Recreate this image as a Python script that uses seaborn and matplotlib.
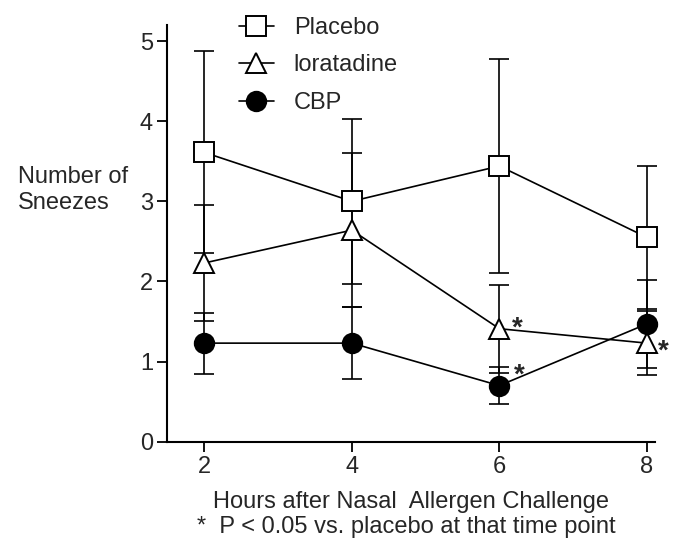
import matplotlib
matplotlib.use("Agg")
import matplotlib.pyplot as plt
import seaborn as sns
import pandas as pd
import numpy as np
from matplotlib.lines import Line2D

hours = [2, 4, 6, 8]
placebo = [3.61, 3.00, 3.44, 2.55]
placebo_err = [1.26, 1.03, 1.33, 0.89]
loratadine = [2.23, 2.64, 1.41, 1.23]
loratadine_err = [0.73, 0.96, 0.55, 0.40]
cbp = [1.23, 1.23, 0.70, 1.47]
cbp_err = [0.38, 0.45, 0.23, 0.55]
series_names = ["Placebo", "loratadine", "CBP"]
sig_points = [("loratadine", 6), ("CBP", 6), ("loratadine", 8)]
sig_offsets = [(18, 8), (20, 18), (16, 0)]  # pixel offsets of asterisks

sns.set_theme(style="ticks")
plt.rcParams['font.family'] = ['Liberation Sans', 'DejaVu Sans']
FS = 17

fig = plt.figure(figsize=(6.85, 5.54), dpi=100)
ax = fig.add_axes([167/685, 1-441.7/554, (655-167)/685, (441.7-25)/554])

vals = {"Placebo": (placebo, placebo_err), "loratadine": (loratadine, loratadine_err), "CBP": (cbp, cbp_err)}
styles = {"Placebo": dict(marker="s", mfc="white"),
          "loratadine": dict(marker="^", mfc="white"),
          "CBP": dict(marker="o", mfc="black")}
msizes = {"Placebo": 14, "loratadine": 15, "CBP": 14}

rows = []
for name in series_names:
    m, e = vals[name]
    for h, v in zip(hours, m):
        rows.append({"hours": h, "value": v, "series": name})
df = pd.DataFrame(rows)

lw = 1.2
for name in series_names:
    m, e = vals[name]
    eb = ax.errorbar(hours, m, yerr=e, fmt="none", ecolor="black", elinewidth=lw,
                     capsize=7.5, capthick=lw, zorder=2)
    for art in list(eb.lines[1]) + list(eb.lines[2]):
        art.set_clip_on(False)
for name in series_names:
    sub = df[df.series == name]
    sns.lineplot(data=sub, x="hours", y="value", ax=ax, color="black", lw=lw,
                 marker=styles[name]["marker"], markersize=msizes[name],
                 markerfacecolor=styles[name]["mfc"], markeredgecolor="black",
                 markeredgewidth=1.4, zorder=3, legend=False, errorbar=None,
                 clip_on=False)

for (name, h), (dx, dy) in zip(sig_points, sig_offsets):
    m, _ = vals[name]
    v = m[hours.index(h)]
    ax.annotate("*", xy=(h, v), xytext=(dx * 0.72, dy * 0.72 - 6), textcoords="offset points",
                fontsize=20, fontweight="bold", ha="center", va="center",
                annotation_clip=False)

ax.set_xlim(1.495, 8.11)
ax.set_ylim(0, 5.2)
ax.set_xticks(hours)
ax.set_yticks([0, 1, 2, 3, 4, 5])
ax.tick_params(labelsize=FS, length=7, width=1.3, color="black", direction="out", pad=3)
for s in ["top", "right"]:
    ax.spines[s].set_visible(False)
for s in ["left", "bottom"]:
    ax.spines[s].set_linewidth(1.5)
    ax.spines[s].set_color("black")
ax.set_xlabel("")
ax.set_ylabel("")

handles = [Line2D([], [], color="black", lw=lw, marker=styles[n]["marker"],
                  markersize=msizes[n], markerfacecolor=styles[n]["mfc"],
                  markeredgecolor="black", markeredgewidth=1.4) for n in series_names]
fig.legend(handles, series_names, loc="upper left", bbox_to_anchor=(227/685, 1-5/554),
           frameon=False, fontsize=FS, handlelength=1.48, handletextpad=0.85,
           labelspacing=0.66, borderpad=0)

fig.text(18/685, 1-190/554, "Number of\nSneezes", fontsize=FS, ha="left", va="center",
         linespacing=1.2)
fig.text(411/685, 1-502/554, "Hours after Nasal  Allergen Challenge", fontsize=FS,
         ha="center", va="center")
fig.text(197/685, 1-527/554, "*  P < 0.05 vs. placebo at that time point", fontsize=FS,
         ha="left", va="center")

fig.savefig("out.png", dpi=100)
